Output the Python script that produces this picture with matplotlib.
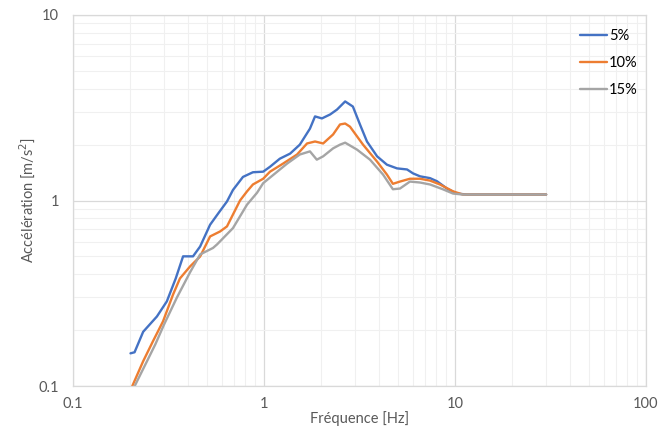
import numpy as np
import matplotlib.pyplot as plt
from matplotlib.ticker import LogLocator, NullFormatter, FixedLocator, FixedFormatter

# valeurs (spectre de réponse, amortissement 5/10/15 %)
freq_5 = [0.2, 0.21, 0.233, 0.275, 0.31, 0.345, 0.377, 0.425, 0.463, 0.522, 0.575,
          0.64, 0.688, 0.776, 0.875, 0.99, 1.075, 1.21, 1.37, 1.54, 1.74, 1.85, 2.01,
          2.22, 2.41, 2.66, 2.92, 3.18, 3.46, 3.91, 4.40, 4.97, 5.61, 6.03, 6.56, 7.40,
          8.05, 9.08, 10.2, 11.6, 13.5, 30.0]
acc_5 = [0.150, 0.152, 0.196, 0.237, 0.286, 0.38, 0.500, 0.500, 0.565, 0.74, 0.85,
         0.988, 1.14, 1.34, 1.42, 1.43, 1.52, 1.68, 1.79, 2.00, 2.44, 2.84, 2.77,
         2.91, 3.09, 3.42, 3.21, 2.57, 2.08, 1.73, 1.56, 1.49, 1.47, 1.40, 1.35, 1.32,
         1.27, 1.16, 1.09, 1.077, 1.077, 1.077]

freq_10 = [0.2, 0.233, 0.262, 0.296, 0.334, 0.363, 0.41, 0.463, 0.522, 0.589, 0.64, 0.749,
           0.815, 0.875, 0.99, 1.075, 1.257, 1.49, 1.68, 1.85, 2.04, 2.30, 2.50, 2.66, 2.82,
           3.30, 3.91, 4.40, 4.73, 5.15, 5.81, 6.56, 7.40, 8.34, 9.77, 11.0, 13.5, 30.0]
acc_10 = [0.095, 0.136, 0.174, 0.223, 0.311, 0.380, 0.441, 0.499, 0.640, 0.681, 0.725, 1.00,
          1.12, 1.22, 1.31, 1.43, 1.58, 1.77, 2.03, 2.08, 2.03, 2.27, 2.57, 2.60, 2.50,
          2.00, 1.62, 1.38, 1.23, 1.265, 1.31, 1.31, 1.28, 1.22, 1.12, 1.077, 1.077, 1.077]

freq_15 = [0.2, 0.244, 0.27, 0.30, 0.35, 0.41, 0.463, 0.541, 0.568, 0.688, 0.815, 0.919,
           0.99, 1.32, 1.54, 1.74, 1.89, 2.04, 2.30, 2.50, 2.66, 3.07, 3.59, 4.20,
           4.73, 5.15, 5.81, 6.56, 7.40, 8.63, 9.77, 11.0, 13.5, 30.0]
acc_15 = [0.090, 0.136, 0.168, 0.215, 0.300, 0.410, 0.512, 0.555, 0.58, 0.71, 0.95, 1.10,
          1.24, 1.58, 1.77, 1.84, 1.66, 1.73, 1.91, 2.00, 2.05, 1.88, 1.66, 1.38,
          1.15, 1.16, 1.265, 1.25, 1.22, 1.15, 1.09, 1.077, 1.077, 1.077]

labels = ['5%', '10%', '15%']
colors = ['#4472C4', '#ED7D31', '#A5A5A5']
txt = '#595959'

plt.rcParams['font.family'] = ['Lato', 'DejaVu Sans']

fig = plt.figure(figsize=(6.61, 4.26), dpi=100)
ax = fig.add_axes([73 / 661, 1 - 386 / 426, (646 - 73) / 661, (386 - 15) / 426])

for f, a, lab, c in zip([freq_5, freq_10, freq_15], [acc_5, acc_10, acc_15], labels, colors):
    ax.plot(f, a, color=c, lw=1.7, label=lab, solid_capstyle='round', solid_joinstyle='round')

ax.set_xscale('log')
ax.set_yscale('log')
ax.set_xlim(0.1, 100)
ax.set_ylim(0.1, 10)

ax.xaxis.set_major_locator(FixedLocator([0.1, 1, 10, 100]))
ax.xaxis.set_major_formatter(FixedFormatter(['0.1', '1', '10', '100']))
ax.yaxis.set_major_locator(FixedLocator([0.1, 1, 10]))
ax.yaxis.set_major_formatter(FixedFormatter(['0.1', '1', '10']))
for axis in (ax.xaxis, ax.yaxis):
    axis.set_minor_locator(LogLocator(base=10, subs=np.arange(2, 10)))
    axis.set_minor_formatter(NullFormatter())

ax.grid(which='major', color='#d9d9d9', lw=0.9)
ax.grid(which='minor', color='#f0f0f0', lw=0.8)
ax.set_axisbelow(True)
ax.tick_params(which='both', length=0, colors=txt, labelsize=10.5)
ax.tick_params(axis='x', pad=8)
ax.tick_params(axis='y', pad=10)
for s in ax.spines.values():
    s.set_color('#d9d9d9')
    s.set_linewidth(0.9)

ax.set_xlabel('Fréquence [Hz]', color=txt, fontsize=10.5, labelpad=0)
ax.set_ylabel('Accélération [m/s$^2$]', color=txt, fontsize=10.5, labelpad=1)

ax.legend(loc='upper left', bbox_to_anchor=(573 / 661, 1 - 22 / 426),
          bbox_transform=fig.transFigure, frameon=False, fontsize=10.5,
          handlelength=1.8, handletextpad=0.15, labelspacing=0.88, borderpad=0)

fig.savefig('out.png', dpi=100)
